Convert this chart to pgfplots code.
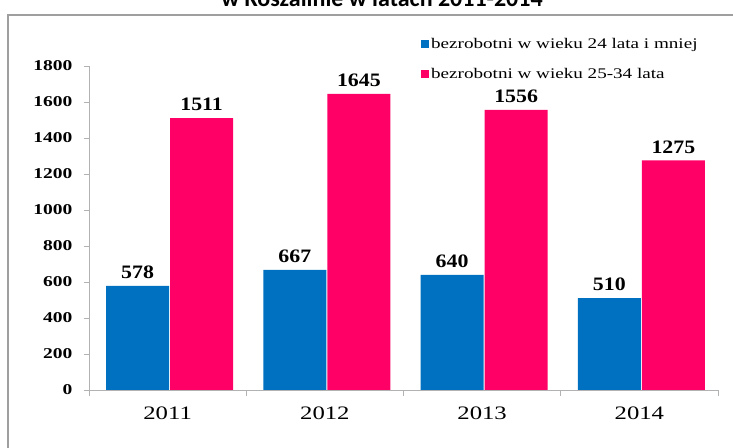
\documentclass[border=0pt]{standalone}
\usepackage{fontspec}
\setmainfont{Liberation Serif}
\newfontfamily\tickfont[FakeStretch=1.3]{Liberation Serif}
\newfontfamily\valfont[FakeStretch=1.15]{Liberation Serif}
\newfontfamily\titlefont{Carlito}
\usepackage{pgfplots}
\pgfplotsset{compat=1.18}
\definecolor{blueC}{RGB}{0,112,192}
\definecolor{pinkC}{RGB}{255,0,102}
\begin{document}
\begin{tikzpicture}
\useasboundingbox (0,0) rectangle (733bp,448bp);
\draw[gray!75, line width=1.3bp] (8bp,-10bp) |- (760bp,433bp);
\node[anchor=base, font=\titlefont\bfseries\fontsize{24bp}{24bp}\selectfont] at (382bp,441bp) {w Koszalinie w latach 2011-2014};
\begin{axis}[
  at={(89bp,58bp)}, anchor=south west,
  scale only axis, width=629bp, height=324bp,
  ybar,
  bar width=63bp,
  xmin=-0.5, xmax=3.5, ymin=0, ymax=1800,
  axis x line=bottom, axis y line=left,
  axis line style={-, draw=gray!60, line width=0.8bp},
  tick style={draw=gray!60, line width=0.8bp},
  tick align=outside,
  ytick={0,200,...,1800},
  major tick length=5bp,
  xtick={0,1,2,3},
  xticklabels={2011,2012,2013,2014},
  major x tick style={draw=none},
  minor xtick={-0.5,0.5,1.5,2.5,3.5},
  minor tick length=6bp,
  /pgf/number format/1000 sep={},
  /pgf/number format/assume math mode=true,
  yticklabel style={font=\tickfont\bfseries\fontsize{15bp}{15bp}\selectfont, xshift=-8bp},
  xticklabel style={font=\tickfont\fontsize{19bp}{19bp}\selectfont, yshift=-8bp},
  nodes near coords,
  every node near coord/.append style={font=\valfont\bfseries\fontsize{19bp}{19bp}\selectfont, anchor=south, inner sep=0pt, yshift=7bp, text=black},
  legend style={at={(axis description cs:0.523,1.098)}, anchor=north west, draw=none, fill=none,
    font=\tickfont\fontsize{14.7bp}{14.7bp}\selectfont, row sep=14bp,
    nodes={inner sep=2bp}},
  legend cell align=left,
  legend image code/.code={\fill[#1] (0bp,-4bp) rectangle (8bp,4bp);},
]
\addplot[fill=blueC, draw=none, bar shift=-30bp] coordinates {(0,578) (1,667) (2,640) (3,510)};
\addplot[fill=pinkC, draw=none, bar shift=34bp] coordinates {(0,1511) (1,1645) (2,1556) (3,1275)};
\legend{bezrobotni w wieku 24 lata i mniej, bezrobotni w wieku 25-34 lata}
\end{axis}
\end{tikzpicture}
\end{document}
